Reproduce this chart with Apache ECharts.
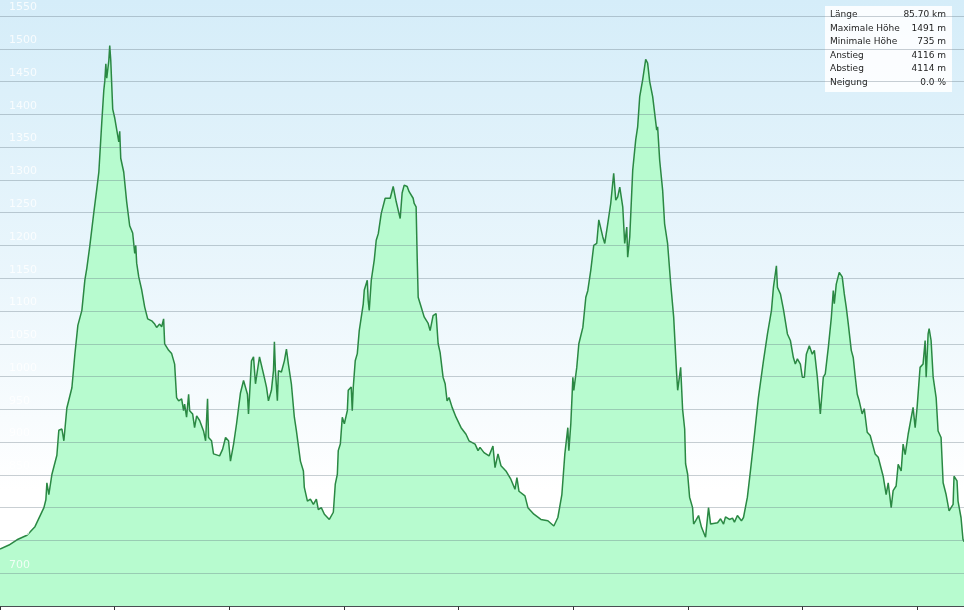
<!DOCTYPE html>
<html>
<head>
<meta charset="utf-8">
<title>Höhenprofil</title>
<script src="https://cdn.jsdelivr.net/npm/echarts@6.0.0/dist/echarts.min.js"></script>
<style>
  html, body { margin: 0; padding: 0; background: #fff; }
  #profile { width: 964px; height: 613px; }
</style>
</head>
<body>
<div id="profile"></div>
<script>
// Distanz (km) entlang der Strecke
const distanceKm = [
  0, 0.17, 0.78, 1.48, 2.35, 3.05, 3.83, 4.00, 4.09, 4.26, 4.53, 4.96, 5.13, 5.40, 5.57, 5.83, 6.27, 6.53, 6.79, 6.96,
  7.14, 7.40, 7.57, 7.83, 8.18, 8.44, 8.62, 8.88, 9.05, 9.14, 9.23, 9.31, 9.49, 9.57, 9.66, 9.83, 10.01, 10.36, 10.44, 10.53,
  10.79, 11.05, 11.31, 11.57, 11.75, 11.84, 11.92, 12.10, 12.36, 12.62, 12.88, 13.23, 13.49, 13.66, 13.92, 14.10, 14.27, 14.36,
  14.71, 14.97, 15.23, 15.40, 15.58, 15.84, 16.01, 16.10, 16.27, 16.45, 16.54, 16.80, 16.97, 17.15, 17.41, 17.75, 17.93, 18.10, 18.19, 18.45,
  18.62, 19.15, 19.41, 19.67, 19.93, 20.10, 20.37, 20.63, 20.97, 21.24, 21.58, 21.67, 21.93, 22.11, 22.28, 22.45, 22.63, 22.98, 23.24, 23.41,
  23.67, 23.85, 23.93, 24.02, 24.19, 24.28, 24.54, 24.80, 24.98, 25.15, 25.41, 25.67, 25.85, 26.02, 26.20, 26.46, 26.54, 26.81, 27.07, 27.33,
  27.59, 27.76, 28.02, 28.29, 28.46, 28.72, 29.07,
  29.24, 29.42, 29.50, 29.68, 29.85, 30.03, 30.29, 30.37, 30.63, 30.72, 30.81, 30.98, 31.16, 31.33, 31.68, 31.77, 32.03, 32.11, 32.20, 32.38,
  32.64, 32.81, 32.99, 33.25, 33.59, 34.03, 34.29, 34.55, 34.90, 35.07, 35.25, 35.51, 35.68, 36.03, 36.12, 36.29, 36.38, 36.47, 36.73, 36.99,
  37.34, 37.51, 37.77, 38.03, 38.21, 38.38, 38.64, 38.82, 38.99, 39.16, 39.43, 39.77, 40.21, 40.64, 40.90, 41.43, 41.69, 41.86, 42.21, 42.65,
  42.99, 43.17, 43.43, 43.69, 44.12, 44.56, 44.91, 45.08, 45.26, 45.78, 46.04, 46.56, 47.17, 47.78, 48.30, 48.65,
  49.00, 49.26, 49.52, 49.61, 49.78, 49.87, 49.96, 50.04, 50.30, 50.48, 50.83, 51.09, 51.26, 51.52, 51.78, 52.04, 52.22, 52.57, 52.74, 53.00,
  53.26, 53.52, 53.70, 53.87, 54.05, 54.31, 54.48, 54.66, 54.74, 54.92, 55.18, 55.44, 55.61, 55.79, 56.05, 56.31, 56.48, 56.66, 56.92, 57.09,
  57.27, 57.35, 57.53, 57.79, 57.96, 58.22, 58.49, 58.75, 59.01, 59.10, 59.36, 59.53, 59.71, 59.79, 59.97, 60.14, 60.40, 60.49, 60.66, 60.92,
  61.18, 61.53, 61.79, 61.97, 62.58, 62.84, 63.10, 63.27, 63.62, 63.88, 64.05, 64.31, 64.66, 64.84,
  65.18, 65.45, 65.80, 66.14, 66.58, 66.93, 67.28, 67.45, 67.71, 67.80, 68.06, 68.32, 68.67, 68.93, 69.19, 69.36, 69.54, 69.80, 69.97, 70.15,
  70.32, 70.58, 70.84, 71.02, 71.28, 71.54, 71.80, 71.97, 72.24, 72.50, 72.67, 72.76, 72.93, 73.19, 73.45, 73.63, 73.80, 73.98, 74.24, 74.41,
  74.59, 74.76, 74.93,
  75.19, 75.37, 75.63, 75.89, 76.06, 76.32, 76.59, 76.93, 77.02, 77.28, 77.46, 77.72, 77.89, 78.15, 78.33, 78.59, 78.76, 78.94, 79.20, 79.63,
  79.81, 79.98, 80.24, 80.50, 80.68, 80.77, 80.94, 81.03, 81.20, 81.38, 81.64, 81.81, 82.07, 82.25, 82.51, 82.77, 83.12, 83.20, 83.46, 83.55,
  83.81, 83.98, 84.07
]

// Höhe (m) an jeder Distanz
const elevationM = [
  737, 738, 743, 751, 758, 771, 800, 812, 838, 820, 851, 880, 918, 920, 902, 952, 983, 1034, 1078, 1080,
  1101, 1147, 1165, 1199, 1250, 1286, 1312, 1389, 1436, 1451, 1477, 1455, 1482, 1505, 1482, 1408, 1394, 1358, 1374, 1333,
  1312, 1266, 1230, 1219, 1188, 1200, 1173, 1152, 1132, 1106, 1088, 1085, 1080, 1075, 1080, 1076, 1088, 1050,
  1040, 1035, 1019, 968, 963, 966, 948, 958, 938, 973, 948, 943, 922, 940, 933, 917, 902, 966, 907, 902,
  882, 879, 889, 907, 902, 871, 897, 928, 975, 994, 973, 943, 1024, 1030, 989, 1009, 1030, 1004, 984, 963,
  979, 1009, 1053, 1009, 963, 1009, 1007, 1024, 1042, 1019, 989, 938, 917, 915, 871, 856, 831, 810, 813, 805,
  813, 797, 800, 790, 790, 782, 793,
  836, 851, 887, 897, 938, 928, 948, 979, 984, 948, 984, 1024, 1035, 1070, 1111, 1132, 1147, 1116, 1101, 1147,
  1178, 1208, 1218, 1249, 1272, 1272, 1290, 1267, 1241, 1280, 1292, 1290, 1282, 1272, 1264, 1259, 1183, 1121, 1106, 1091,
  1081, 1070, 1093, 1096, 1050, 1037, 999, 989, 963, 968, 953, 938, 922, 912, 902, 897, 887, 892, 884, 879,
  894, 861, 882, 864, 856, 843, 828, 846, 825, 818, 800, 790, 782, 780, 772, 785,
  820, 882, 922, 887, 928, 963, 999, 979, 1014, 1050, 1075, 1121, 1131, 1162, 1200, 1203, 1239, 1213, 1203, 1233,
  1264, 1310, 1269, 1274, 1289, 1259, 1203, 1228, 1182, 1213, 1315, 1361, 1381, 1427, 1453, 1484, 1478, 1450, 1427, 1430,
  1376, 1381, 1330, 1284, 1233, 1203, 1142, 1091, 1004, 979, 1014, 950, 920, 867, 851, 816, 800, 775, 780, 788,
  770, 755, 800, 775, 777, 783, 775, 786, 782, 784, 778, 788, 780, 785,
  816, 857, 912, 968, 1024, 1065, 1101, 1136, 1169, 1136, 1126, 1103, 1065, 1055, 1029, 1019, 1027, 1019, 999, 999,
  1034, 1047, 1034, 1040, 999, 943, 999, 1004, 1045, 1090, 1131, 1111, 1141, 1159, 1152, 1126, 1106, 1080, 1040, 1029,
  999, 973, 963,
  943, 951, 915, 910, 910, 882, 877, 854, 848, 820, 838, 800, 826, 833, 866, 856, 897, 881, 912, 953,
  922, 953, 1014, 1019, 1055, 999, 1065, 1073, 1055, 999, 968, 917, 907, 838, 820, 795, 805, 848, 841, 810,
  785, 752, 748
]

// Achsen
const yMin = 650
const yMax = 1550
const yStep = 50
const xMax = 84.07 // sichtbarer Ausschnitt
const xStep = 10

// Infobox oben rechts
const infoLabels = ['Länge', 'Maximale Höhe', 'Minimale Höhe', 'Anstieg', 'Abstieg', 'Neigung']
const infoValues = ['85.70 km', '1491 m', '735 m', '4116 m', '4114 m', '0.0 %']

if (distanceKm.length !== elevationM.length) {
  console.warn('Datenlänge passt nicht', distanceKm.length, elevationM.length)
}

let chart = echarts.init(document.getElementById('profile'), null, { renderer: 'canvas' })

let profileData = distanceKm.map((d, i) => [d, elevationM[i]])

// Infobox als graphic
let infoChildren = [{
  type: 'rect',
  shape: { x: 0, y: 0, width: 127, height: 86 },
  style: { fill: 'rgba(255,255,255,0.88)' }
}]
infoLabels.forEach((label, i) => {
  let y = 9 + i * 13.5
  infoChildren.push({
    type: 'text',
    x: 5,
    y: y,
    style: {
      text: label,
      fill: '#1e1e1e',
      font: '9px "DejaVu Sans"',
      verticalAlign: 'middle'
    }
  })
  infoChildren.push({
    type: 'text',
    x: 121,
    y: y,
    style: {
      text: infoValues[i],
      fill: '#1e1e1e',
      font: '9px "DejaVu Sans"',
      align: 'right',
      verticalAlign: 'middle'
    }
  })
})

chart.setOption({
  animation: false,
  backgroundColor: new echarts.graphic.LinearGradient(0, 0, 0, 1, [
    { offset: 0, color: '#d5edf9' },
    { offset: 0.45, color: '#eaf6fc' },
    { offset: 0.8, color: '#ffffff' },
    { offset: 1, color: '#ffffff' }
  ]),
  grid: {
    left: -2,
    right: 0,
    top: 16,
    bottom: 7,
    containLabel: false
  },
  xAxis: {
    type: 'value',
    min: 0,
    max: xMax,
    interval: xStep,
    axisLine: { lineStyle: { color: '#3f3f3f', width: 2 } },
    axisTick: { show: true, length: 4, lineStyle: { color: '#333', width: 1 } },
    axisLabel: { show: false },
    splitLine: { show: false }
  },
  yAxis: {
    type: 'value',
    min: yMin,
    max: yMax,
    interval: yStep,
    z: 3, // Gitterlinien über der Fläche
    axisLine: { show: false },
    axisTick: { show: false },
    splitLine: {
      show: true,
      lineStyle: { color: 'rgba(90,110,120,0.33)', width: 1 }
    },
    axisLabel: {
      inside: true,
      margin: 9,
      showMinLabel: false,
      formatter: v => String(v),
      color: 'rgba(255,255,255,0.8)',
      fontSize: 11,
      fontFamily: 'DejaVu Sans',
      verticalAlign: 'bottom',
      padding: [0, 0, 3, 0]
    }
  },
  series: [{
    name: 'Höhe',
    type: 'line',
    data: profileData,
    symbol: 'none',
    smooth: false,
    lineStyle: { color: '#2a8843', width: 1.5 },
    areaStyle: { color: '#b7fbcf', opacity: 1 },
    z: 2
  }],
  graphic: [{
    type: 'group',
    x: 825,
    y: 6,
    z: 100,
    children: infoChildren
  }]
})
</script>
</body>
</html>
